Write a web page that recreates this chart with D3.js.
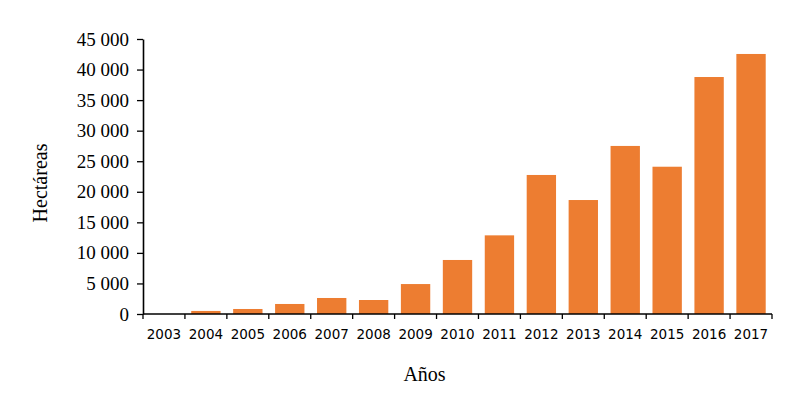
<!DOCTYPE html>
<html>
<head>
<meta charset="utf-8">
<script src="https://cdn.jsdelivr.net/npm/d3@7"></script>
<style>
  body { margin: 0; background: #fff; }
  .tick text { fill: #000; }
</style>
</head>
<body>
<div id="chart"></div>
<script>
var years = ["2003", "2004", "2005", "2006", "2007", "2008", "2009", "2010",
    "2011", "2012", "2013", "2014", "2015", "2016", "2017"];
var hectares = [0, 500, 820, 1640, 2620, 2290, 4900, 8840,
    12870, 22750, 18650, 27500, 24100, 38780, 42550];
var yTicks = [0, 5000, 10000, 15000, 20000, 25000, 30000, 35000, 40000, 45000];

var W = 801, H = 393;
var margin = { top: 39, right: 29, bottom: 79, left: 143 },
    width = W - margin.left - margin.right,
    height = H - margin.top - margin.bottom;

var svg = d3.select("#chart")
    .append("svg")
    .attr("width", W)
    .attr("height", H)
    .append("g")
    .attr("transform", "translate(" + margin.left + "," + margin.top + ")");

var x = d3.scaleBand()
    .domain(years)
    .range([0, width])
    .paddingInner(0.3)
    .paddingOuter(0.15);

var y = d3.scaleLinear()
    .domain([0, 45000])
    .range([height, 0]);

// thousands with a space
var fmt = function (d) {
    return d3.format(",")(d).replace(/,/g, "\u00a0");
};

svg.append("g")
    .selectAll("rect")
    .data(years)
    .enter().append("rect")
    .attr("x", function (d) { return x(d); })
    .attr("y", function (d, i) { return y(hectares[i]); })
    .attr("width", x.bandwidth())
    .attr("height", function (d, i) { return height - y(hectares[i]); })
    .attr("fill", "#ED7D31");

var yAxis = svg.append("g")
    .call(d3.axisLeft(y).tickValues(yTicks).tickFormat(fmt).tickSize(6).tickSizeOuter(0).tickPadding(8));
yAxis.select(".domain").attr("stroke", "#000").attr("stroke-width", 1.6);
yAxis.selectAll(".tick line").attr("stroke", "#000").attr("stroke-width", 1.3);
yAxis.selectAll(".tick text")
    .style("font-family", "'Liberation Serif', 'Times New Roman', serif")
    .style("font-size", "19px");

// x axis: ticks at band edges
var xEdge = d3.scaleLinear().domain([0, years.length]).range([0, width]);
var xAxis = svg.append("g")
    .attr("transform", "translate(0," + height + ")");
xAxis.append("line")
    .attr("x1", 0).attr("x2", width)
    .attr("stroke", "#000").attr("stroke-width", 1.6);
xAxis.selectAll(".edge")
    .data(d3.range(years.length + 1))
    .enter().append("line")
    .attr("class", "edge")
    .attr("x1", function (d) { return xEdge(d); })
    .attr("x2", function (d) { return xEdge(d); })
    .attr("y1", 0).attr("y2", 5)
    .attr("stroke", "#000").attr("stroke-width", 1.3);
xAxis.selectAll(".lab")
    .data(years)
    .enter().append("text")
    .attr("class", "lab")
    .attr("x", function (d) { return x(d) + x.bandwidth() / 2; })
    .attr("y", 25)
    .attr("text-anchor", "middle")
    .style("font-family", "'DejaVu Sans', Verdana, sans-serif")
    .style("font-size", "13.5px")
    .text(function (d) { return d; });

svg.append("text")
    .attr("text-anchor", "middle")
    .attr("x", 424.5 - margin.left)
    .attr("y", 381 - margin.top)
    .style("font-family", "'Liberation Serif', 'Times New Roman', serif")
    .style("font-size", "20px")
    .text("Años");

svg.append("text")
    .attr("text-anchor", "middle")
    .attr("transform", "translate(" + (47 - margin.left) + "," + (183 - margin.top) + ") rotate(-90)")
    .style("font-family", "'Liberation Serif', 'Times New Roman', serif")
    .style("font-size", "20px")
    .text("Hectáreas");
</script>
</body>
</html>
